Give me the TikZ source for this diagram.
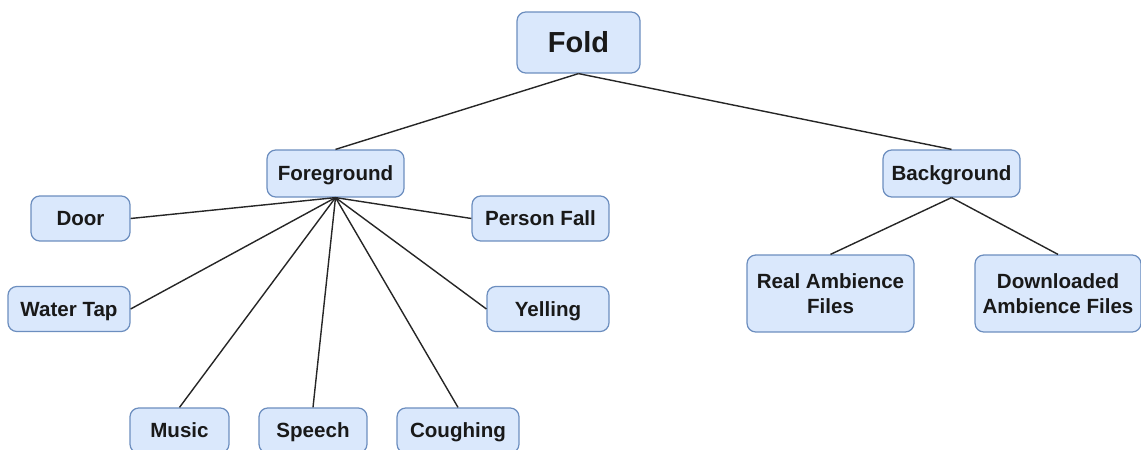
\documentclass[tikz,border=0pt]{standalone}
\usepackage{fontspec}
\setmainfont{Liberation Sans}
\usepackage{xcolor}
\usetikzlibrary{positioning}
\definecolor{foldfill}{HTML}{DAE8FC}
\definecolor{folddraw}{HTML}{6C8EBF}

\begin{document}
\begin{tikzpicture}[
  x=0.02cm, y=-0.02cm,
  box/.style={rounded corners=5pt, draw=folddraw, fill=foldfill, line width=0.7pt,
              inner sep=1pt, align=center, text=black!90,
              font=\bfseries\fontsize{11.7}{14}\selectfont},
  leaf/.style={box, minimum height=0.9cm, text height=0.9em, text depth=0.08em},
  link/.style={line width=0.8pt, draw=black!85},
]
\useasboundingbox (0,0) rectangle (1141,449);
% ----- root -----
\node[box, minimum width=2.46cm, minimum height=1.22cm,
      font=\bfseries\fontsize{16.5}{19}\selectfont] (fold) at (578.5,42.5) {Fold};
% ----- second level -----
\node[leaf, minimum width=2.74cm, minimum height=0.94cm] (fg) at (335.5,173.5) {Foreground};
\node[leaf, minimum width=2.74cm, minimum height=0.94cm] (bg) at (951.5,173.5) {Background};
% ----- foreground sounds -----
\node[leaf, minimum width=1.98cm] (door) at (80.5,218.5) {Door};
\node[leaf, minimum width=2.74cm] (fall) at (540.5,218.5) {Person Fall};
\node[leaf, minimum width=2.44cm] (tap) at (69,309) {Water Tap};
\node[leaf, minimum width=2.44cm] (yell) at (548,309) {Yelling};
\node[leaf, minimum width=1.98cm] (music) at (179.5,430.5) {Music};
\node[leaf, minimum width=2.16cm] (speech) at (313,430.5) {Speech};
\node[leaf, minimum width=2.44cm] (cough) at (458,430.5) {Coughing};
% ----- background sounds -----
\node[box, minimum width=3.34cm, minimum height=1.54cm] (real) at (830.5,293.5) {Real Ambience\\Files};
\node[box, minimum width=3.32cm, minimum height=1.54cm] (down) at (1058,293.5) {Downloaded\\Ambience Files};
% ----- links -----
\draw[link] (fold.south)--(fg.north);
\draw[link] (fold.south)--(bg.north);
\draw[link] (fg.south)--(door.east);
\draw[link] (fg.south)--(fall.west);
\draw[link] (fg.south)--(tap.east);
\draw[link] (fg.south)--(yell.west);
\draw[link] (fg.south)--(music.north);
\draw[link] (fg.south)--(speech.north);
\draw[link] (fg.south)--(cough.north);
\draw[link] (bg.south)--(real.north);
\draw[link] (bg.south)--(down.north);
\end{tikzpicture}
\end{document}
